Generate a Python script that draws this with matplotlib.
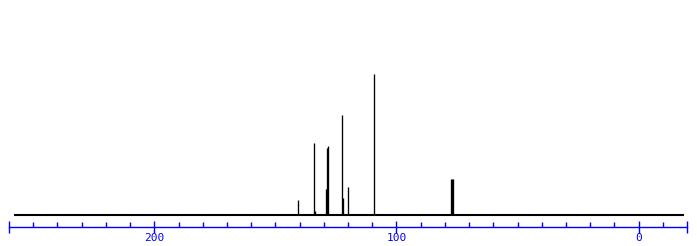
import matplotlib.pyplot as plt

# 13C spektrum - polohy piku (ppm) a relativni intenzity
shifts = [140.5, 133.9, 133.5, 128.9, 128.5, 128.1, 122.3, 121.9, 119.9, 109.1,
          77.3, 77.0, 76.7]
heights = [10.6, 51.1, 3.0, 18.4, 47.5, 48.9, 70.9, 12.1, 19.9, 100.0,
           25.5, 25.5, 25.5]

baseline_range = (258.1, -18.6)
major_ticks = [260, 200, 100, 0, -20]
major_labels = ["", "200", "100", "0", ""]
minor_ticks = list(range(250, -20, -10))

fig = plt.figure(figsize=(6.97, 2.46), dpi=100)
ax = fig.add_axes([9 / 697, 19 / 246, 678 / 697, 227 / 246])

ax.hlines(0, baseline_range[0], baseline_range[1], color="black", lw=1.5)
ax.vlines(shifts, 0, heights, color="black", lw=0.95)

ax.set_xlim(260, -20)
ax.set_ylim(-8.5, 152.5)

for side in ["top", "left", "right"]:
    ax.spines[side].set_visible(False)
ax.spines["bottom"].set_color("blue")
ax.spines["bottom"].set_linewidth(1.0)
ax.set_yticks([])

ax.set_xticks(major_ticks)
ax.set_xticklabels(major_labels)
ax.set_xticks(minor_ticks, minor=True)
ax.tick_params(axis="x", which="major", direction="inout", length=8, width=1,
               color="blue", labelcolor="blue", pad=0,
               labelfontfamily="DejaVu Sans Mono", labelsize=8)
ax.tick_params(axis="x", which="minor", direction="in", length=3.6, width=1,
               color="blue")

fig.savefig("out.png", dpi=100)
